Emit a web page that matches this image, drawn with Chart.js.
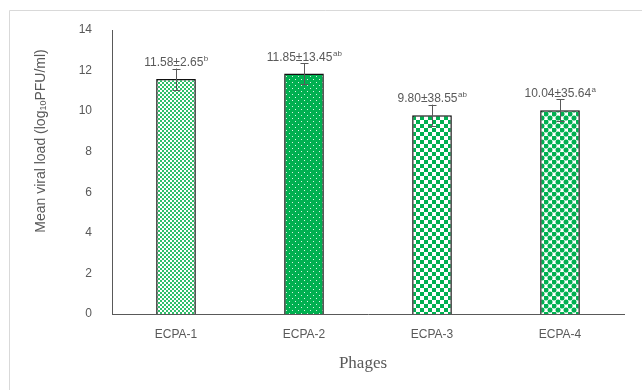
<!DOCTYPE html>
<html>
<head>
<meta charset="utf-8">
<title>Mean viral load by phage</title>
<script src="https://cdn.jsdelivr.net/npm/chart.js@4.4.1/dist/chart.umd.min.js"></script>
<style>
  html, body { margin: 0; padding: 0; background: #fff; }
  #wrap { width: 642px; height: 390px; position: relative; }
</style>
</head>
<body>
<div id="wrap"><canvas id="loadChart" width="642" height="390"></canvas></div>
<script>
// Phage data
const phages = ['ECPA-1', 'ECPA-2', 'ECPA-3', 'ECPA-4'];
const meanLoad = [11.58, 11.85, 9.80, 10.04];
const sdText = ['2.65', '13.45', '38.55', '35.64'];
const letters = ['b', 'ab', 'ab', 'a'];
const errBars = [0.52, 0.52, 0.52, 0.54];
const yMin = 0, yMax = 14, yStep = 2;

const GREEN = '#00b050';
const GREY = '#595959';

// Fill patterns for the bars
function makePattern(size, paint) {
  const c = document.createElement('canvas');
  c.width = size; c.height = size;
  const g = c.getContext('2d');
  paint(g, size);
  return g.createPattern(c, 'repeat');
}

const smallChecker = makePattern(4, (g) => {
  g.fillStyle = '#fff'; g.fillRect(0, 0, 4, 4);
  g.fillStyle = '#2fbf6a';
  g.fillRect(0, 0, 2, 2); g.fillRect(2, 2, 2, 2);
});

const dotted = makePattern(6, (g) => {
  g.fillStyle = GREEN; g.fillRect(0, 0, 6, 6);
  g.fillStyle = 'rgba(255,255,255,0.85)';
  g.fillRect(1, 1, 1, 1); g.fillRect(4, 4, 1, 1);
});

const bigChecker = makePattern(8, (g) => {
  g.fillStyle = '#fff'; g.fillRect(0, 0, 8, 8);
  g.fillStyle = GREEN;
  g.fillRect(0, 0, 4, 4); g.fillRect(4, 4, 4, 4);
});

const spheres = makePattern(8, (g) => {
  g.fillStyle = '#fff'; g.fillRect(0, 0, 8, 8);
  g.fillStyle = GREEN;
  const dots = [[2, 2], [6, 6], [-2, 6], [6, -2], [10, 6], [6, 10]];
  dots.forEach(([x, y]) => { g.beginPath(); g.arc(x, y, 2.5, 0, Math.PI * 2); g.fill(); });
});

// Light frame around the whole figure
const framePlugin = {
  id: 'frame',
  beforeDraw(chart) {
    const ctx = chart.ctx;
    ctx.save();
    ctx.strokeStyle = '#d9d9d9';
    ctx.lineWidth = 1;
    ctx.beginPath();
    ctx.moveTo(9.5, 390); ctx.lineTo(9.5, 10.5); ctx.lineTo(642, 10.5);
    ctx.stroke();
    ctx.restore();
  }
};

// Error bars, value labels with superscript letters, and axis titles
const extrasPlugin = {
  id: 'extras',
  afterDatasetsDraw(chart) {
    const ctx = chart.ctx;
    const y = chart.scales.y;
    const meta = chart.getDatasetMeta(0);
    ctx.save();
    meta.data.forEach((bar, i) => {
      const v = meanLoad[i];
      const yHi = y.getPixelForValue(v + errBars[i]);
      const yLo = y.getPixelForValue(v - errBars[i]);
      const x = Math.round(bar.x) + 0.5;
      ctx.strokeStyle = GREY;
      ctx.lineWidth = 1;
      ctx.beginPath();
      ctx.moveTo(x, yHi); ctx.lineTo(x, yLo);
      ctx.moveTo(x - 4, Math.round(yHi) + 0.5); ctx.lineTo(x + 4, Math.round(yHi) + 0.5);
      ctx.moveTo(x - 4, Math.round(yLo) + 0.5); ctx.lineTo(x + 4, Math.round(yLo) + 0.5);
      ctx.stroke();

      // label: "mean±sd" + superscript letters
      const main = v.toFixed(2) + '±' + sdText[i];
      ctx.font = '12px "Liberation Sans", Arial, sans-serif';
      const wMain = ctx.measureText(main).width;
      ctx.font = '8px "Liberation Sans", Arial, sans-serif';
      const wSup = ctx.measureText(letters[i]).width;
      const left = bar.x - (wMain + wSup) / 2;
      const base = bar.y - 13;
      ctx.fillStyle = GREY;
      ctx.textAlign = 'left';
      ctx.textBaseline = 'alphabetic';
      ctx.font = '12px "Liberation Sans", Arial, sans-serif';
      ctx.fillText(main, left, base);
      ctx.font = '8px "Liberation Sans", Arial, sans-serif';
      ctx.fillText(letters[i], left + wMain + 0.5, base - 5);
    });

    // y title with subscript 10
    const parts = [
      { t: 'Mean viral load (log', f: '14px "Liberation Sans", Arial, sans-serif', dy: 0 },
      { t: '10', f: '9px "Liberation Sans", Arial, sans-serif', dy: 3 },
      { t: 'PFU/ml)', f: '14px "Liberation Sans", Arial, sans-serif', dy: 0 }
    ];
    let total = 0;
    parts.forEach(p => { ctx.font = p.f; p.w = ctx.measureText(p.t).width; total += p.w; });
    ctx.translate(41, 141);
    ctx.rotate(-Math.PI / 2);
    ctx.textBaseline = 'middle';
    ctx.fillStyle = GREY;
    let px = -total / 2;
    parts.forEach(p => { ctx.font = p.f; ctx.fillText(p.t, px, p.dy); px += p.w; });
    ctx.restore();

    // x title
    ctx.save();
    ctx.font = '17px "Liberation Serif", "DejaVu Serif", serif';
    ctx.fillStyle = GREY;
    ctx.textAlign = 'center';
    ctx.textBaseline = 'middle';
    ctx.fillText('Phages', 363, 364);
    ctx.restore();
  }
};

const ctx = document.getElementById('loadChart').getContext('2d');
new Chart(ctx, {
  type: 'bar',
  data: {
    labels: phages,
    datasets: [{
      data: meanLoad,
      backgroundColor: [smallChecker, dotted, bigChecker, spheres],
      borderColor: '#111',
      borderWidth: 1.5,
      barPercentage: 0.31,
      categoryPercentage: 1
    }]
  },
  options: {
    responsive: false,
    animation: false,
    layout: { padding: { top: 30, right: 18, bottom: 0, left: 0 } },
    plugins: { legend: { display: false }, tooltip: { enabled: false } },
    scales: {
      x: {
        grid: { display: false, drawTicks: false },
        border: { color: GREY, width: 1 },
        ticks: { color: GREY, padding: 13, font: { size: 12, family: '"Liberation Sans", Arial, sans-serif' } },
        afterFit(scale) { scale.height = 76; }
      },
      y: {
        min: yMin, max: yMax,
        grid: { display: false, drawTicks: false },
        border: { color: GREY, width: 1 },
        ticks: { stepSize: yStep, color: GREY, padding: 20, font: { size: 12, family: '"Liberation Sans", Arial, sans-serif' } },
        afterFit(scale) { scale.width = 112; }
      }
    }
  },
  plugins: [framePlugin, extrasPlugin]
});
</script>
</body>
</html>
